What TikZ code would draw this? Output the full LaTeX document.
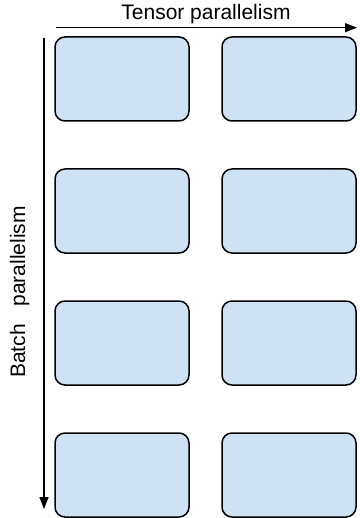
\documentclass[tikz,border=0pt]{standalone}
\usepackage{fontspec}
\setmainfont{Liberation Sans}
\usetikzlibrary{arrows.meta}

\definecolor{boxblue}{HTML}{CFE2F3}

\tikzset{
  gpu/.style={rectangle,rounded corners=10pt,draw,line width=1.5pt,fill=boxblue,
    minimum width=134pt,minimum height=84pt,inner sep=0pt},
  axis/.style={line width=1.5pt,-{Triangle[length=12pt,width=9pt]}},
  axislabel/.style={font=\fontsize{21}{25}\selectfont,inner sep=0pt}
}

\begin{document}
\begin{tikzpicture}[x=1pt,y=-1pt]
        \useasboundingbox (0,0) rectangle (359,518);

        \node[gpu] (11) at (122,79) {};
        \node[gpu] (12) at (289,79) {};
        \node[gpu] (21) at (122,211) {};
        \node[gpu] (22) at (289,211) {};
        \node[gpu] (31) at (122,343) {};
        \node[gpu] (32) at (289,343) {};
        \node[gpu] (41) at (122,475) {};
        \node[gpu] (42) at (289,475) {};

        \coordinate (tp start) at (56,27.7);
        \coordinate (tp end) at (357,27.7);
        \coordinate (bp start) at (44,38);
        \coordinate (bp end) at (44,509);

        \draw[axis] (tp start) -- (tp end);
        \draw[axis] (bp start) -- (bp end);

        \node[axislabel,anchor=base] (tp) at (206,20) {Tensor parallelism};
        \node[axislabel,anchor=base,rotate=90] (bp) at (25,292) {Batch\ \ \ parallelism};
      \end{tikzpicture}
\end{document}
